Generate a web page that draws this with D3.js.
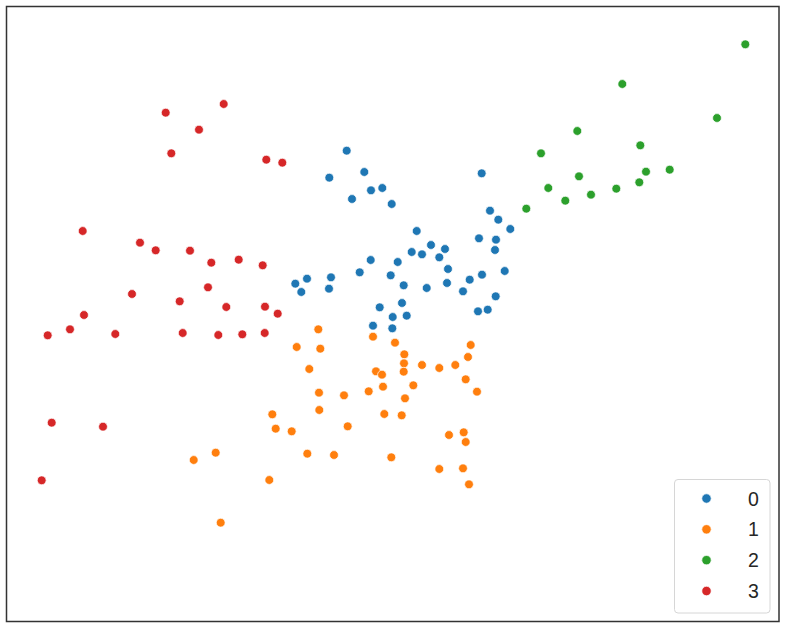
<!DOCTYPE html>
<html><head><meta charset="utf-8">
<script src="https://cdn.jsdelivr.net/npm/d3@7"></script>
<style>html,body{margin:0;padding:0;background:#fff;}</style>
</head><body>
<script>
const categories = ["0","1","2","3"];
const colors = ["#1f77b4","#ff7f0e","#2ca02c","#d62728"];

const cluster0 = [[340.7,471.3],[323.3,444.3],[358.3,450],[365,431.7],[376.3,434],[346,423],[385.7,418],[475.7,448.7],[484,411.3],[492.3,402.3],[504.3,393],[410.7,391],[473,383.7],[490,382.3],[489,372],[425,377],[439,373],[405.7,370],[416,367.7],[433.3,364.7],[364.7,362],[391.7,360],[442,353],[498.7,351],[353.7,349.7],[384.7,346.7],[476,347.3],[463.7,342.3],[325,344.7],[301,343.3],[289.3,338.3],[295.3,330],[323,333.3],[397.7,336.7],[420.7,334],[441,339],[457,330.7],[489.7,325.7],[396,319],[373.7,314.7],[400.7,306.3],[386.7,305],[472,310.7],[481.7,312.3],[367,296.3],[386.3,293.7]];
const cluster1 = [[312.3,292.7],[367,285.3],[290.7,275],[314.3,273.3],[389,279.3],[464.7,277],[398.3,267.7],[462,265],[398,258.7],[416,257],[433.3,254],[449.3,257],[303.3,253],[370,250.7],[376,247.3],[397.7,250.3],[459.7,242.7],[313,229.3],[338,226.7],[362.7,230.7],[377,235.3],[407.3,236.7],[399,223.7],[471,230.3],[313.3,212],[378.3,208],[395.7,206.7],[266.3,207.7],[269.7,193.3],[285.7,190.7],[341.7,195.7],[443,187],[457.7,189.7],[459.7,180],[301.3,168.3],[328,167],[385.3,164.7],[433.3,153],[457,153.7],[463,137.7],[263.3,142],[209.7,169.3],[187.7,162],[214.7,99.3]];
const cluster2 = [[739.3,577.7],[616.3,538],[711,504],[571.3,491],[634.3,476.7],[535,468.7],[573,445.7],[640,450.3],[663.7,452.3],[542.3,434],[610.3,433.3],[633.3,439.7],[559.3,421.3],[585,427.3],[520.3,413.3]];
const cluster3 = [[159.7,509.3],[217.7,518],[193,492.3],[165.3,468.7],[260.3,462.3],[276.3,459.3],[76.7,391],[134,379.3],[149.7,371.7],[184,371.3],[205.3,359.3],[232.7,362.3],[256.7,356.7],[126,328],[173.7,320.7],[202,334.7],[220.3,315],[259,315.3],[78,307],[271.7,308.3],[258.7,289],[41.7,286.7],[64,292.7],[109.3,288],[176.7,289],[212.3,287],[236.3,287.7],[45.7,199.3],[97,195.3],[35.7,141.7]];
const clusters = [cluster0, cluster1, cluster2, cluster3];

const W = 787, H = 628;
const svg = d3.select("body").append("svg").attr("width", W).attr("height", H);
svg.append("rect").attr("width", W).attr("height", H).attr("fill", "#fff");

const x = d3.scaleLinear().domain([0, 773]).range([6, 779]);
const y = d3.scaleLinear().domain([0, 616]).range([622, 6]);

const pts = [];
clusters.forEach((c, i) => c.forEach(p => pts.push({x: p[0], y: p[1], k: i})));

svg.append("g").selectAll("circle").data(pts).join("circle")
  .attr("cx", d => x(d.x)).attr("cy", d => y(d.y)).attr("r", 4.4)
  .attr("fill", d => colors[d.k]).attr("stroke", "#fff").attr("stroke-width", 0.7);

// frame
svg.append("rect").attr("x", 6.5).attr("y", 6.5).attr("width", 772.5).attr("height", 615)
  .attr("fill", "none").attr("stroke", "#333").attr("stroke-width", 1.5);

// legend
const lg = svg.append("g");
lg.append("rect").attr("x", 674.5).attr("y", 479.5).attr("width", 95.5).attr("height", 133.5)
  .attr("rx", 3.5).attr("fill", "#fff").attr("fill-opacity", 0.8).attr("stroke", "#d6d6d6").attr("stroke-width", 1);
const ly = d3.scalePoint().domain(categories).range([498.5, 591]);
categories.forEach((c, i) => {
  lg.append("circle").attr("cx", 706.5).attr("cy", ly(c)).attr("r", 4.7).attr("fill", colors[i]).attr("stroke", "#fff").attr("stroke-width", 0.7);
  lg.append("text").attr("x", 748).attr("y", ly(c) + 7).attr("font-family", "Liberation Sans, Arial, sans-serif")
    .attr("font-size", 19.5).attr("fill", "#262626").text(c);
});
</script>
</body></html>
